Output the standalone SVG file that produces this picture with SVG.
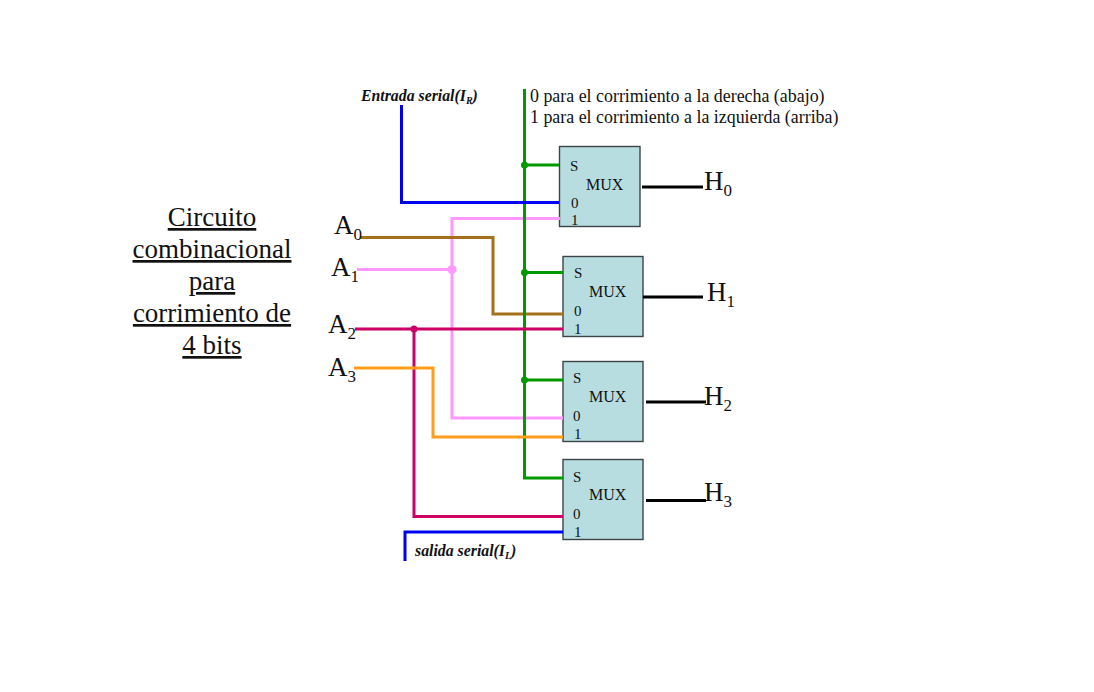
<svg xmlns="http://www.w3.org/2000/svg" width="1094" height="692" viewBox="0 0 1094 692">
<style>
text{font-family:"Liberation Serif","Times New Roman",serif;fill:#111}
.box{fill:#b7dde0;stroke:#3c4448;stroke-width:1.4}
.w{fill:none;stroke-width:3;stroke-linejoin:miter}
.port{font-size:15px}
.mux{font-size:16px}
.cap{font-size:27px;text-decoration:underline;text-anchor:middle}
.big{font-size:27px}
.sub{font-size:17px}
.note{font-size:17.9px}
.it{font-size:15.8px;font-weight:bold;font-style:italic}
.its{font-size:10px;font-weight:bold;font-style:italic}
</style>
<rect width="1094" height="692" fill="#fff"/>
<g id="titulo">
<text class="cap" x="212" y="226">Circuito</text>
<text class="cap" x="212" y="258">combinacional</text>
<text class="cap" x="212" y="290">para</text>
<text class="cap" x="212" y="322">corrimiento de</text>
<text class="cap" x="212" y="354">4 bits</text>
</g>
<g id="mux0"><rect class="box" x="559.5" y="146.5" width="80.5" height="80"/>
<text class="port" x="570" y="171">S</text><text class="mux" x="586" y="190">MUX</text><text class="port" x="571" y="208">0</text><text class="port" x="571" y="225">1</text></g>
<g id="mux1"><rect class="box" x="563" y="256.5" width="80" height="80"/>
<text class="port" x="574" y="278">S</text><text class="mux" x="589" y="297">MUX</text><text class="port" x="574" y="316">0</text><text class="port" x="574" y="334">1</text></g>
<g id="mux2"><rect class="box" x="563" y="361.5" width="80" height="80"/>
<text class="port" x="573" y="383">S</text><text class="mux" x="589" y="402">MUX</text><text class="port" x="573" y="421">0</text><text class="port" x="574" y="439">1</text></g>
<g id="mux3"><rect class="box" x="563" y="459.5" width="80" height="80"/>
<text class="port" x="573" y="482">S</text><text class="mux" x="589" y="500">MUX</text><text class="port" x="573" y="519">0</text><text class="port" x="574" y="537">1</text></g>
<g id="connectors">
<path class="w" stroke="#ff99ff" d="M560 218.500H452V418H563M357 269.500H452"/>
<path class="w" stroke="#a5701a" d="M360 237.500H493V314H563"/>
<path class="w" stroke="#009900" d="M524.500 89V478H563M524.500 165H559M524.500 272.500H563M524.500 380H563"/>
<path class="w" stroke="#0000ee" d="M401.500 105V202.500H559"/>
<path class="w" stroke="#0000ee" d="M563 532H405V561"/>
<path class="w" stroke="#cc0066" d="M355 329H563M414 329V516.500H563"/>
<path class="w" stroke="#ff9c1a" d="M354 368H433V437H563"/>
<path class="w" stroke="#000" d="M642 187H703M643 297H703M646 402H706M646 500.500H706"/>
<g id="dots">
<circle cx="524.500" cy="165" r="3.500" fill="#009900"/>
<circle cx="524.500" cy="272.500" r="3.500" fill="#009900"/>
<circle cx="524.500" cy="380" r="3.500" fill="#009900"/>
<circle cx="452" cy="269.500" r="4.500" fill="#ff99ff"/>
<circle cx="414" cy="329" r="3.500" fill="#cc0066"/>
</g>
</g>
<g id="entrada"><text class="it" x="361" y="101">Entrada serial(I<tspan class="its" dy="3">R</tspan><tspan dy="-3">)</tspan></text></g>
<g id="salida"><text class="it" x="415" y="556">salida serial(I<tspan class="its" dy="3">L</tspan><tspan dy="-3">)</tspan></text></g>
<g id="nota">
<text class="note" x="530" y="102">0 para el corrimiento a la derecha (abajo)</text>
<text class="note" x="530" y="123">1 para el corrimiento a la izquierda (arriba)</text>
</g>
<g id="a0"><text class="big" x="334" y="234">A<tspan class="sub" dy="6">0</tspan></text></g>
<g id="a1"><text class="big" x="331" y="276">A<tspan class="sub" dy="6">1</tspan></text></g>
<g id="a2"><text class="big" x="328" y="333">A<tspan class="sub" dy="6">2</tspan></text></g>
<g id="a3"><text class="big" x="328" y="376">A<tspan class="sub" dy="6">3</tspan></text></g>
<g id="h0"><text class="big" x="704" y="190">H<tspan class="sub" dy="6">0</tspan></text></g>
<g id="h1"><text class="big" x="707" y="301">H<tspan class="sub" dy="6">1</tspan></text></g>
<g id="h2"><text class="big" x="704" y="405">H<tspan class="sub" dy="6">2</tspan></text></g>
<g id="h3"><text class="big" x="704" y="501">H<tspan class="sub" dy="6">3</tspan></text></g>
</svg>
